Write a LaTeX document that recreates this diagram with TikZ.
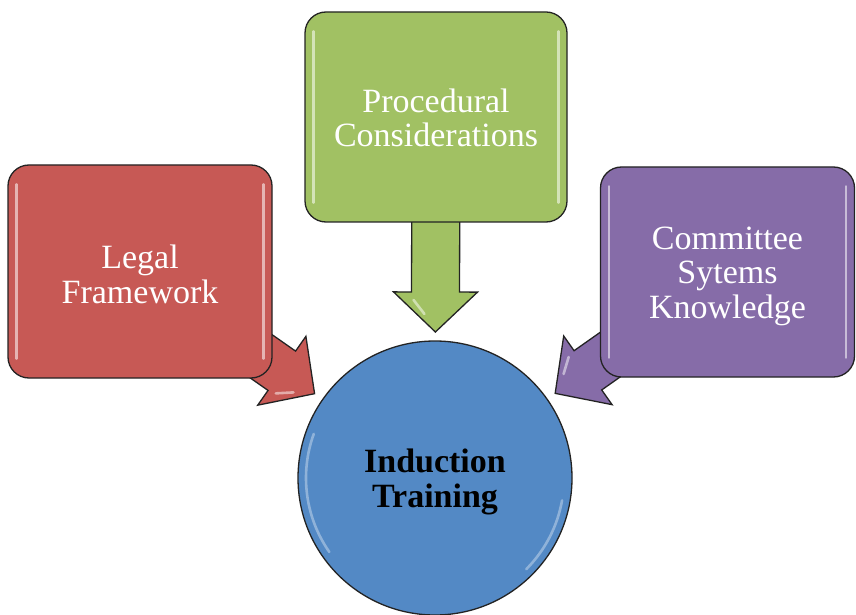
\documentclass[tikz,border=0pt]{standalone}
\usepackage{fontspec}
\setmainfont{Liberation Serif}
\usetikzlibrary{calc}

\definecolor{redbox}{RGB}{199,89,85}
\definecolor{greenbox}{RGB}{161,193,99}
\definecolor{purplebox}{RGB}{134,108,168}
\definecolor{bluebox}{RGB}{83,137,197}
\definecolor{rimline}{RGB}{35,35,35}

\pgfdeclarelayer{back}
\pgfsetlayers{back,main}

\tikzset{
  rim/.style={draw=rimline, line width=1.3pt},
  panel/.style={rim, rounded corners=21pt},
  paneltext/.style={align=center, text=white, inner sep=0pt,
    font=\fontsize{34}{34.5}\selectfont},
  hub/.style={rim, circle, minimum size=274pt, inner sep=0pt},
  hubtext/.style={align=center, text=black, inner sep=0pt,
    font=\bfseries\fontsize{34}{34.5}\selectfont},
  blockarrow/.style={rim, line join=miter},
  gloss/.style={white, line width=2.6pt, line cap=round, opacity=0.55},
}

% block arrow from the centre of a box (#1) to a tip point (#2)
\newcommand\blockarrow[3]{%
  \coordinate (hb) at ($(#2)!40pt!(#1)$);
  \draw[blockarrow, fill=#3] (#2)
    -- ($(hb)!42pt!90:(#2)$) -- ($(hb)!24pt!90:(#2)$)
    -- ($(#1)!24pt!90:(#2)$) -- ($(#1)!24pt!-90:(#2)$)
    -- ($(hb)!24pt!-90:(#2)$) -- ($(hb)!42pt!-90:(#2)$) -- cycle;
  % a short shine streak inside the head
  \coordinate (s1) at ($(hb)!8pt!(#2)$);
  \coordinate (s2) at ($(hb)!22pt!(#2)$);
  \draw[gloss, opacity=0.5] ($(s1)!22pt!-90:(#2)$) -- ($(s2)!11pt!-90:(#2)$);
}

\begin{document}
\begin{tikzpicture}[x=1pt, y=1pt]
\useasboundingbox (0,0) rectangle (856,614);

% the three source boxes
\node[panel, fill=redbox, minimum width=264pt, minimum height=213pt]
  (legal) at (140,342.5) {};
\node[panel, fill=greenbox, minimum width=262pt, minimum height=210pt]
  (proc) at (436,497) {};
\node[panel, fill=purplebox, minimum width=254pt, minimum height=210pt]
  (comm) at (727.5,342) {};

% the central circle
\node[hub, fill=bluebox] (ind) at (435,136) {};

% labels
\node[paneltext] (legal-t) at ($(legal.center)+(0,-3)$) {Legal\\Framework};
\node[paneltext] (proc-t)  at ($(proc.center)+(0,-1)$) {Procedural\\Considerations};
\node[paneltext] (comm-t)  at ($(comm.center)+(0,-4)$) {Committee\\Sytems\\Knowledge};
\node[hubtext]   (ind-t)   at ($(ind.center)+(0,-4)$) {Induction\\Training};

% soft highlights along the inner edges
\foreach \b in {legal,proc,comm}{
  \draw[gloss] ($(\b.north west)+(9,-20)$) -- ($(\b.south west)+(9,20)$);
  \draw[gloss] ($(\b.north east)+(-9,-20)$) -- ($(\b.south east)+(-9,20)$);
}
\draw[gloss, opacity=0.35] ($(ind.center)+(160:129)$) arc[start angle=160, end angle=215, radius=129];
\draw[gloss, opacity=0.35] ($(ind.center)+(-10:129)$) arc[start angle=-10, end angle=-45, radius=129];

% block arrows pointing at the circle
\coordinate (lt) at ($(ind.center)!147pt!(legal.center)$);
\coordinate (pt) at ($(ind.center)!146pt!(proc.center)$);
\coordinate (ct) at ($(ind.center)!147pt!(comm.center)$);
\begin{pgfonlayer}{back}
  \blockarrow{legal.center}{lt}{redbox}
  \blockarrow{proc.center}{pt}{greenbox}
  \blockarrow{comm.center}{ct}{purplebox}
\end{pgfonlayer}
\end{tikzpicture}
\end{document}
